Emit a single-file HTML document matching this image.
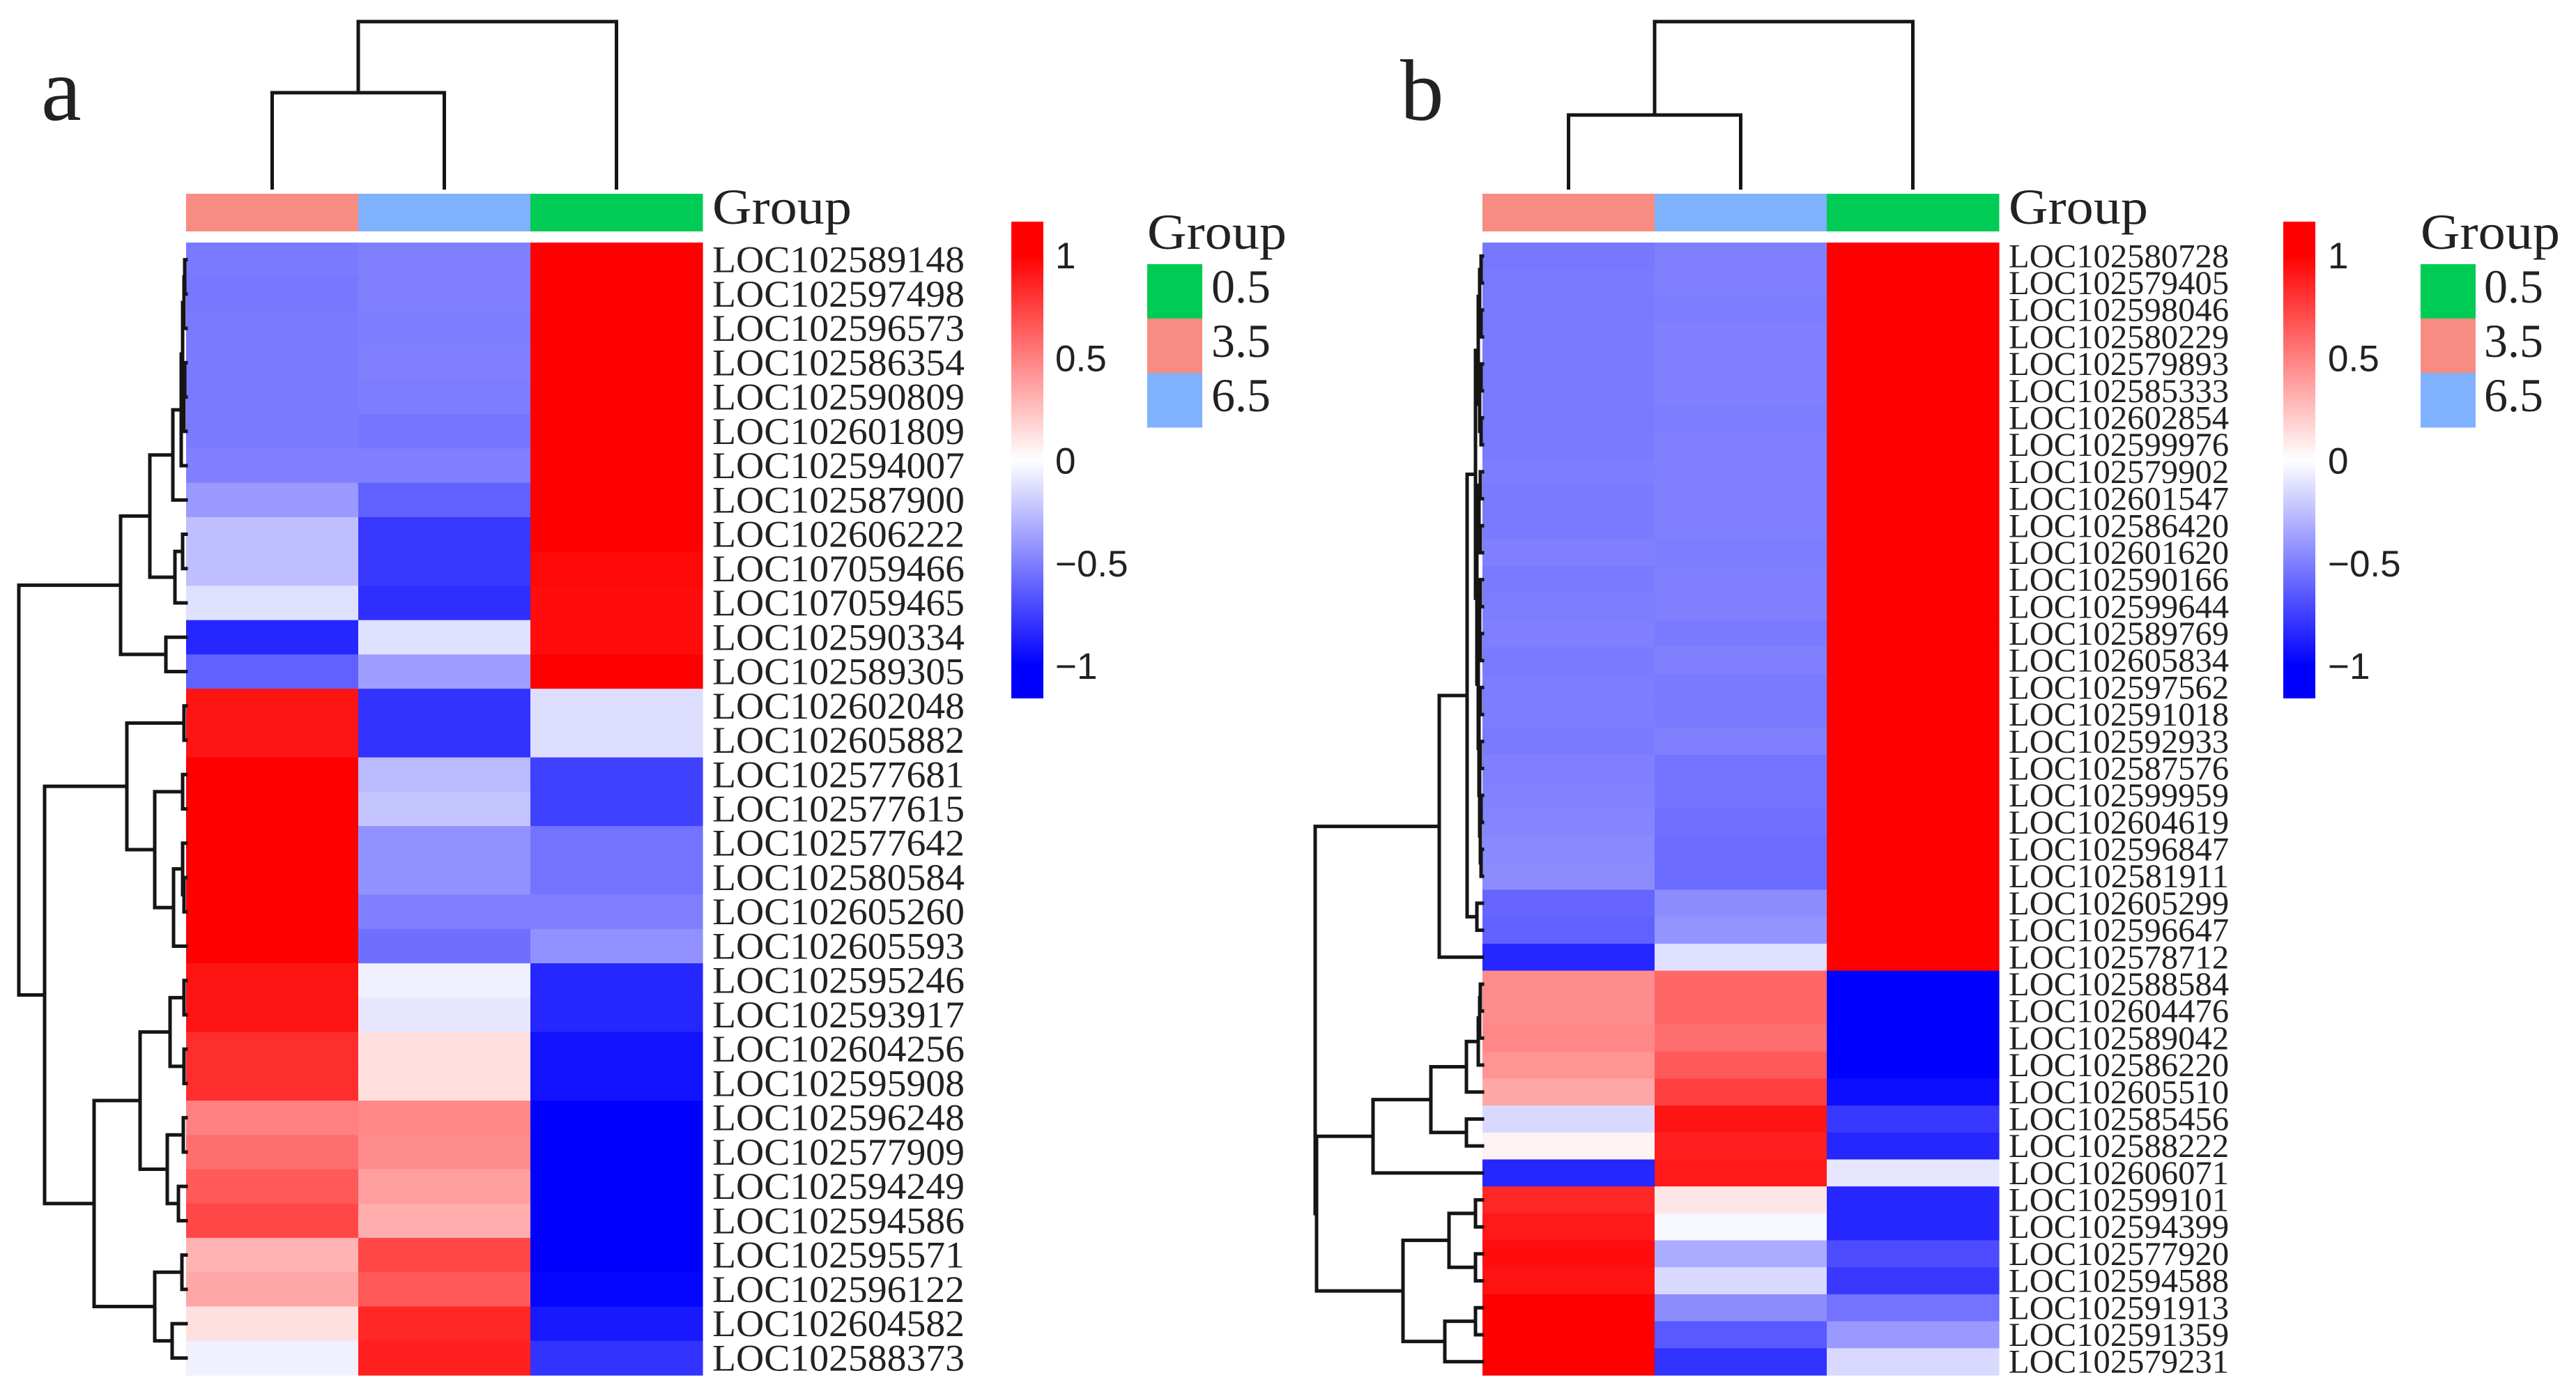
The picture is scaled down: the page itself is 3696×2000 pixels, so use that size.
<!DOCTYPE html>
<html><head><meta charset="utf-8"><style>
html,body{margin:0;padding:0;background:#fff;}
svg{display:block;}
text{font-family:"Liberation Serif",serif;fill:#222;}
.sans{font-family:"Liberation Sans",sans-serif;}
</style></head><body>
<svg id="fig" width="3696" height="2000" viewBox="0 0 3696 2000" xmlns="http://www.w3.org/2000/svg">
<defs>
<linearGradient id="cbar" x1="0" y1="0" x2="0" y2="1">
<stop offset="0" stop-color="#ff0000"/><stop offset="0.07" stop-color="#ff0000"/>
<stop offset="0.5" stop-color="#ffffff"/>
<stop offset="0.93" stop-color="#0000ff"/><stop offset="1" stop-color="#0000ff"/>
</linearGradient>
</defs>
<text x="59" y="172" font-size="130">a</text>
<text x="2009" y="172" font-size="125">b</text>
</svg>
<script>
// ---- data ----
const groupNames = ["3.5","6.5","0.5"];
const groupColors = ["#f88b82","#80b1fc","#00cc55"];
const legendOrder = ["0.5","3.5","6.5"];
const colorbarTicks = [1,0.5,0,-0.5,-1];
const colorbarTickLabels = ["1","0.5","0","\u22120.5","\u22121"];

const labelsA = ["LOC102589148","LOC102597498","LOC102596573","LOC102586354","LOC102590809","LOC102601809","LOC102594007","LOC102587900","LOC102606222","LOC107059466","LOC107059465","LOC102590334","LOC102589305","LOC102602048","LOC102605882","LOC102577681","LOC102577615","LOC102577642","LOC102580584","LOC102605260","LOC102605593","LOC102595246","LOC102593917","LOC102604256","LOC102595908","LOC102596248","LOC102577909","LOC102594249","LOC102594586","LOC102595571","LOC102596122","LOC102604582","LOC102588373"];
const valuesA = [
[-0.52,-0.5,1],[-0.53,-0.5,1],[-0.52,-0.51,1],[-0.52,-0.5,1],[-0.52,-0.51,1],[-0.52,-0.54,1],[-0.5,-0.5,1],
[-0.4,-0.62,1],[-0.25,-0.78,1],[-0.25,-0.78,0.97],[-0.12,-0.82,0.95],[-0.85,-0.12,0.95],[-0.62,-0.38,1],
[0.92,-0.8,-0.13],[0.92,-0.8,-0.13],[1,-0.27,-0.75],[1,-0.23,-0.75],[1,-0.43,-0.55],[1,-0.43,-0.55],[1,-0.5,-0.5],[1,-0.57,-0.43],
[0.92,-0.06,-0.85],[0.92,-0.1,-0.85],[0.82,0.13,-0.93],[0.82,0.13,-0.93],
[0.5,0.47,-1],[0.57,0.45,-1],[0.65,0.38,-1],[0.72,0.32,-1],
[0.3,0.72,-1],[0.35,0.65,-0.98],[0.12,0.85,-0.9],[-0.06,0.88,-0.8]];
const treeA = [240,
  [94,[52,[19,[7,[5,[3,[2,0,1],2],[3,[2,3,4],5]],6],7],[16,[5,8,9],10]],[29,11,12]],
  [203,[85,[3,13,14],[45,[5,15,16],[18,[5,17,[3,18,19]],20]]],
       [132,[66,[23,[3,21,22],[3,23,24]],[27,[4,25,26],[11,27,28]]],[45,[6,29,30],[20,31,32]]]]];

const labelsB = ["LOC102580728","LOC102579405","LOC102598046","LOC102580229","LOC102579893","LOC102585333","LOC102602854","LOC102599976","LOC102579902","LOC102601547","LOC102586420","LOC102601620","LOC102590166","LOC102599644","LOC102589769","LOC102605834","LOC102597562","LOC102591018","LOC102592933","LOC102587576","LOC102599959","LOC102604619","LOC102596847","LOC102581911","LOC102605299","LOC102596647","LOC102578712","LOC102588584","LOC102604476","LOC102589042","LOC102586220","LOC102605510","LOC102585456","LOC102588222","LOC102606071","LOC102599101","LOC102594399","LOC102577920","LOC102594588","LOC102591913","LOC102591359","LOC102579231"];
const valuesB = [
[-0.53,-0.5,1],[-0.52,-0.5,1],[-0.52,-0.51,1],[-0.52,-0.5,1],[-0.52,-0.5,1],[-0.52,-0.5,1],[-0.52,-0.51,1],[-0.52,-0.5,1],
[-0.51,-0.5,1],[-0.52,-0.5,1],[-0.52,-0.5,1],[-0.5,-0.51,1],[-0.52,-0.5,1],[-0.51,-0.5,1],[-0.5,-0.52,1],[-0.52,-0.5,1],
[-0.51,-0.52,1],[-0.51,-0.52,1],[-0.52,-0.5,1],[-0.5,-0.55,1],[-0.49,-0.55,1],[-0.48,-0.56,1],[-0.46,-0.58,1],[-0.45,-0.58,1],
[-0.6,-0.45,1],[-0.62,-0.42,1],[-0.85,-0.12,1],
[0.45,0.6,-1],[0.45,0.6,-1],[0.47,0.57,-1],[0.42,0.65,-1],[0.35,0.75,-0.95],[-0.15,0.92,-0.78],[0.05,0.88,-0.85],[-0.85,0.9,-0.1],
[0.85,0.1,-0.85],[0.9,-0.03,-0.85],[0.95,-0.33,-0.7],[0.93,-0.15,-0.78],[1,-0.45,-0.55],[1,-0.65,-0.4],[1,-0.8,-0.15]];
const treeB = [240,
  [62,[22,[10,[6,[4,[2,0,1],[2,2,3]],[4,[2,4,5],[2,6,7]]],[8,[5,[3,8,9],[3,10,11]],[6,[4,[3,12,13],[3,14,15]],[5,[3,16,17],[4,[3,18,19],[3,[2,20,21],[2,22,23]]]]]]],[8,24,25]],26],
  [238,[157,[74,[23,[6,[4,[3,27,28],29],30],31],[23,32,33]],34],
       [114,[48,[10,35,36],[10,37,38]],[54,[10,39,40],41]]]];

// ---- layout ----
const NS = "http://www.w3.org/2000/svg";
const svg = document.getElementById("fig");
function el(tag, attrs, parent){const e=document.createElementNS(NS,tag);for(const k in attrs)e.setAttribute(k,attrs[k]);(parent||svg).appendChild(e);return e;}
function color(v){v=Math.max(-1,Math.min(1,v));let r,g,b;if(v>=0){r=255;g=b=Math.round(255*(1-v));}else{b=255;r=g=Math.round(255*(1+v));}return `rgb(${r},${g},${b})`;}

function panel(cfg){
  const {id,left,labels,values,tree,fontSize,textLen,labelOff,cbX,tickX,legX,legLabX,colTop,colInner} = cfg;
  const top=348,bottom=1973,right=left+741,cw=(right-left)/3;
  const rh=(bottom-top)/labels.length;
  const yOf=i=>top+(i+0.5)*rh;
  const g=el("g",{});
  
  
  values.forEach((row,i)=>row.forEach((v,j)=>{
    const r=el("rect",{x:left+j*cw,y:top+i*rh,width:cw+0.6,height:rh+0.6,fill:color(v)},g);
    
    
  }));
  groupNames.forEach((n,j)=>{
    const r=el("rect",{x:left+j*cw,y:278,width:cw+0.5,height:54,fill:groupColors[j]});
    
    
  });
  const gt=el("text",{x:right+14,y:321,"font-size":72,textLength:200,lengthAdjust:"spacingAndGlyphs"});gt.textContent="Group";
  
  
  labels.forEach((t,i)=>{
    const tx=el("text",{x:right+14,y:yOf(i)+labelOff,"font-size":fontSize,textLength:textLen,lengthAdjust:"spacingAndGlyphs"});
    tx.textContent=t;
    
    
  });
  const dg=el("g",{stroke:"#151515","stroke-width":5,fill:"none","stroke-linecap":"square"});
  
  
  function draw(n){
    if(typeof n==="number")return {y:yOf(n),x:left};
    const a=draw(n[1]),b=draw(n[2]);const x=left-n[0];
    el("path",{d:`M${a.x},${a.y}H${x}V${b.y}H${b.x}`},dg);
    return {y:(a.y+b.y)/2,x};
  }
  draw(tree);
  const cx=j=>left+(j+0.5)*cw;
  const cg=el("g",{stroke:"#151515","stroke-width":5,fill:"none"});
  
  
  el("path",{d:`M${cx(0)},272V${colInner}H${cx(1)}V272`},cg);
  el("path",{d:`M${(cx(0)+cx(1))/2},${colInner}V${colTop}H${cx(2)}V272`},cg);
  const cb=el("rect",{x:cbX,y:318,width:46,height:684,fill:"url(#cbar)"});
  
  
  const c0=660.5,unit=294.5;
  colorbarTicks.forEach((v,k)=>{
    const t=el("text",{x:tickX,y:c0-v*unit+19,"font-size":53,class:"sans"});
    t.textContent=colorbarTickLabels[k];
    
    
  });
  const lt=el("text",{x:legX,y:357,"font-size":72,textLength:200,lengthAdjust:"spacingAndGlyphs"});lt.textContent="Group";
  
  
  legendOrder.forEach((n,k)=>{
    const r=el("rect",{x:legX,y:379+k*78,width:79,height:78.5,fill:groupColors[groupNames.indexOf(n)]});
    
    
    const t=el("text",{x:legLabX,y:434+k*78,"font-size":68});t.textContent=n;
    
    
  });
}
panel({id:"panel-a",left:267,labels:labelsA,values:valuesA,tree:treeA,fontSize:54,textLen:362,labelOff:18,cbX:1451,tickX:1514,legX:1646,legLabX:1738,colTop:31,colInner:133});
panel({id:"panel-b",left:2127,labels:labelsB,values:valuesB,tree:treeB,fontSize:48,textLen:316,labelOff:16,cbX:3276,tickX:3340,legX:3473,legLabX:3564,colTop:31,colInner:165});
</script>
</body></html>
